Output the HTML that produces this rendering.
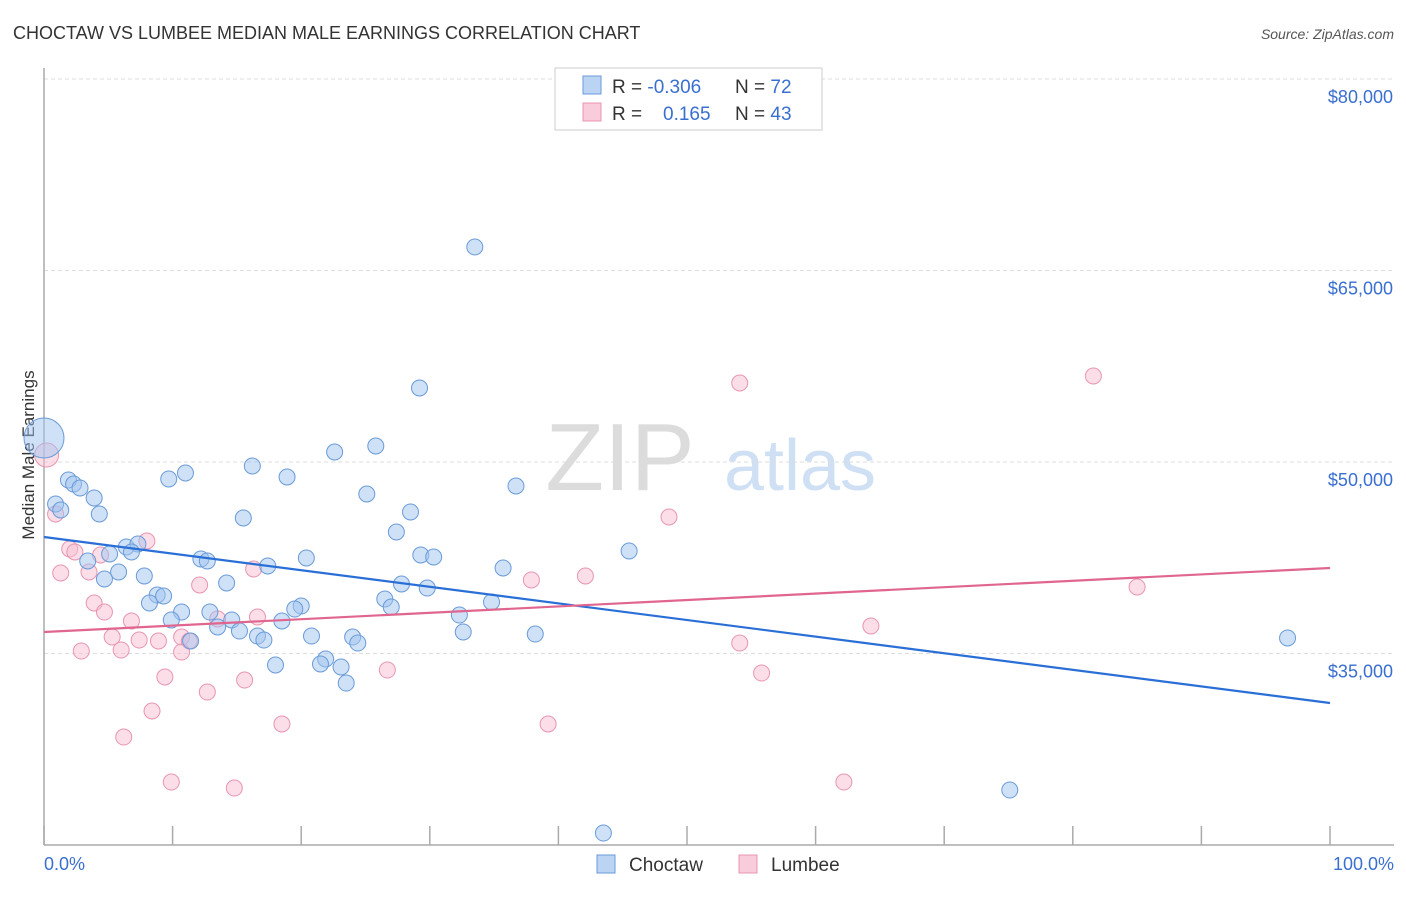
<!DOCTYPE html>
<html><head><meta charset="utf-8"><style>
body{margin:0;background:#fff;font-family:"Liberation Sans",sans-serif}
svg text{font-family:"Liberation Sans",sans-serif}
</style></head><body>
<svg id="chart" width="1406" height="892" xmlns="http://www.w3.org/2000/svg">
<text x="13" y="39" font-size="18" fill="#333">CHOCTAW VS LUMBEE MEDIAN MALE EARNINGS CORRELATION CHART</text>
<text x="1394" y="39" font-size="14" fill="#555" text-anchor="end" font-style="italic">Source: ZipAtlas.com</text>
<text x="620" y="490" font-size="96" fill="#dcdcdc" font-family="Liberation Serif" text-anchor="middle">ZIP</text>
<text x="800" y="490" font-size="72" fill="#cfe0f5" text-anchor="middle">atlas</text>
<text transform="translate(34,455) rotate(-90)" font-size="17" fill="#333" text-anchor="middle">Median Male Earnings</text>
<g id="grid"></g><g id="axes"></g><g id="pts"></g><g id="trend"></g>
<g>
<rect x="555" y="68" width="267" height="62" fill="#fff" stroke="#ccc"/>
<rect x="583" y="76" width="18" height="18" fill="#bcd4f4" stroke="#6a9bd8"/>
<rect x="583" y="103" width="18" height="18" fill="#f9ccdb" stroke="#e896b0"/>
<text x="612" y="93" font-size="19" fill="#333">R = <tspan fill="#3a6fd0">-0.306</tspan></text>
<text x="735" y="93" font-size="19" fill="#333">N = <tspan fill="#3a6fd0">72</tspan></text>
<text x="612" y="120" font-size="19" fill="#333">R = </text>
<text x="663" y="120" font-size="19" fill="#3a6fd0">0.165</text>
<text x="735" y="120" font-size="19" fill="#333">N = <tspan fill="#3a6fd0">43</tspan></text>
</g>
<g>
<rect x="597" y="855" width="18" height="18" fill="#bcd4f4" stroke="#6a9bd8"/>
<text x="629" y="871" font-size="19" fill="#333">Choctaw</text>
<rect x="739" y="855" width="18" height="18" fill="#f9ccdb" stroke="#e896b0"/>
<text x="771" y="871" font-size="19" fill="#333">Lumbee</text>
</g>
<text x="44" y="870" font-size="18" fill="#3a6fd0">0.0%</text>
<text x="1394" y="870" font-size="18" fill="#3a6fd0" text-anchor="end">100.0%</text>
</svg>
<script>
const yTicks=[80000,65000,50000,35000];
const yTickLabels=["$80,000","$65,000","$50,000","$35,000"];
const xTicks=[0,10,20,30,40,50,60,70,80,90,100];
const choctawX=[33.5,29.2,25.8,22.6,16.2,18.9,11.0,9.7,1.9,2.3,2.8,3.9,36.7,25.1,0.9,1.3,4.3,15.5,28.5,27.4,6.4,7.3,5.1,6.8,45.5,3.4,12.2,12.7,20.4,29.3,30.3,17.4,5.8,35.7,4.7,7.8,14.2,27.8,29.8,8.8,9.3,26.5,8.2,34.8,27.0,10.7,12.9,20.0,19.5,32.3,9.9,14.6,18.5,13.5,15.2,16.6,17.1,32.6,38.2,24.0,20.8,24.4,11.4,21.9,21.5,23.1,18.0,23.5,96.7,75.1,43.5,0];
const choctawY=[66841,55796,51253,50783,49687,48825,49138,48668,48590,48277,47963,47180,48120,47493,46710,46240,45927,45613,46084,44517,43342,43577,42794,42950,43029,42246,42402,42246,42480,42715,42559,41854,41384,41697,40836,41071,40522,40444,40130,39582,39504,39269,38956,39034,38642,38250,38250,38720,38485,38015,37624,37624,37546,37076,36762,36370,36057,36684,36527,36292,36370,35822,35979,34569,34178,33943,34100,32689,36214,24307,20939,51880];
const lumbeeX=[0.2,0.9,2.0,2.4,1.3,3.5,4.4,8.0,3.9,4.7,6.8,16.3,12.1,5.3,7.4,8.9,10.7,11.3,13.5,16.6,2.9,6.0,10.7,9.4,15.6,26.7,12.7,8.4,18.5,6.2,9.9,14.8,54.1,81.6,48.6,37.9,42.1,85.0,64.3,54.1,55.8,39.2,62.2];
const lumbeeY=[50548,45927,43185,42950,41306,41384,42715,43812,38956,38250,37546,41619,40366,36292,36057,35979,36292,35979,37702,37859,35195,35273,35117,33159,32924,33707,31984,30496,29478,28459,24934,24464,56188,56736,45692,40757,41071,40209,37154,35822,33472,29478,24934];
const choctawTrend=[44125,31122];
const lumbeeTrend=[36683,41697];
const NS="http://www.w3.org/2000/svg";
const X=p=>44+p*12.86, Y=v=>462-(v-50000)*0.012767;
function mk(t,a,parent){const e=document.createElementNS(NS,t);for(const k in a)e.setAttribute(k,a[k]);document.getElementById(parent).appendChild(e);return e;}
yTicks.forEach((v,i)=>{
 const l=mk('line',{x1:44,x2:1394,y1:Y(v),y2:Y(v),stroke:'#ddd','stroke-dasharray':'4,3'},'grid');
 
 
 const t=mk('text',{x:1393,y:Y(v)+24,'font-size':18,fill:'#3a6fd0','text-anchor':'end'},'grid');t.textContent=yTickLabels[i];
 
 
});
const ax=mk('line',{x1:44,x2:1394,y1:845,y2:845,stroke:'#aaa','stroke-width':1.5},'axes');


const ay=mk('line',{x1:44,x2:44,y1:68,y2:845,stroke:'#aaa','stroke-width':1.5},'axes');


xTicks.forEach(p=>{const t=mk('line',{x1:X(p),x2:X(p),y1:826,y2:845,stroke:'#aaa','stroke-width':1.5},'axes');
 
 });
lumbeeX.forEach((p,i)=>{const c=mk('circle',{cx:X(p),cy:Y(lumbeeY[i]),r:i==0?12:8,fill:'rgba(247,190,210,0.5)',stroke:'#e896b0','stroke-width':1},'pts');
 
 });
choctawX.forEach((p,i)=>{const c=mk('circle',{cx:X(p),cy:Y(choctawY[i]),r:i==choctawX.length-1?20:8,fill:'rgba(160,195,240,0.5)',stroke:'#6a9bd8','stroke-width':1},'pts');
 
 });
const tb=mk('line',{x1:X(0),x2:X(100),y1:Y(choctawTrend[0]),y2:Y(choctawTrend[1]),stroke:'#2a6fd6','stroke-width':2.2},'trend');


const tp=mk('line',{x1:X(0),x2:X(100),y1:Y(lumbeeTrend[0]),y2:Y(lumbeeTrend[1]),stroke:'#e0668f','stroke-width':2.2},'trend');


</script>
</body></html>
